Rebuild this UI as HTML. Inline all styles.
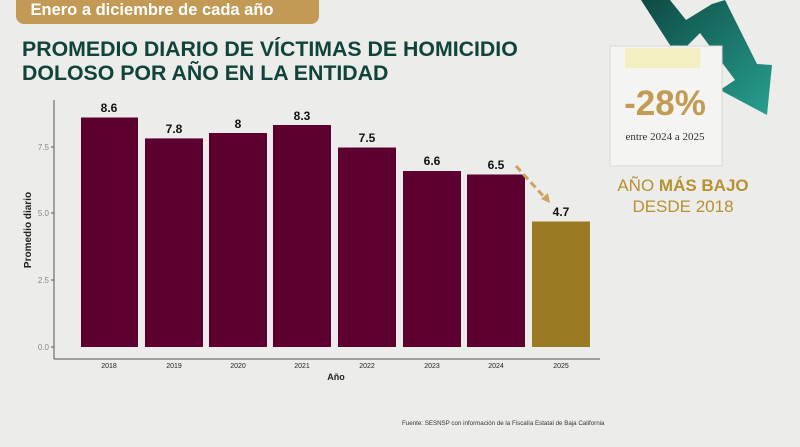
<!DOCTYPE html>
<html><head><meta charset="utf-8"><style>
body{margin:0;width:800px;height:447px;overflow:hidden;background:#ececea;font-family:"Liberation Sans",sans-serif;}
</style></head><body>
<svg width="800" height="447" viewBox="0 0 800 447" xmlns="http://www.w3.org/2000/svg" style="position:absolute;left:0;top:0">
<rect width="800" height="447" fill="#ececea"/>
<rect x="16" y="-12" width="303" height="36" rx="8" fill="#c29a55"/>
<text x="152" y="15" text-anchor="middle" font-size="16.5" font-weight="bold" fill="#fff">Enero a diciembre de cada año</text>
<text x="22" y="56" font-size="21.3" font-weight="bold" fill="#10443a">PROMEDIO DIARIO DE VÍCTIMAS DE HOMICIDIO</text>
<text x="22" y="80" font-size="21.3" font-weight="bold" fill="#10443a">DOLOSO POR AÑO EN LA ENTIDAD</text>
<defs><linearGradient id="g" x1="0" y1="0" x2="1" y2="1"><stop offset="0" stop-color="#0e4a44"/><stop offset="1" stop-color="#27a08f"/></linearGradient></defs>
<polygon points="641,0 670,0 686,20 712,4 725,0 757,64 772,65 767,115 720,90 735,80 700,33 677,56" fill="url(#g)"/>
<rect x="610" y="46" width="112" height="120" fill="#f4f4f2" stroke="#d8d8d6"/>
<rect x="625" y="48" width="75" height="20" fill="#f3efc0"/>
<text x="665" y="115" text-anchor="middle" font-size="35" font-weight="bold" fill="#c39a52">-28%</text>
<text x="665" y="140" text-anchor="middle" font-size="11" fill="#333" font-family="Liberation Serif,serif">entre 2024 a 2025</text>
<text x="683" y="191" text-anchor="middle" font-size="17" fill="#b8912f">AÑO <tspan font-weight="bold">MÁS BAJO</tspan></text>
<text x="683" y="212" text-anchor="middle" font-size="17" fill="#b8912f">DESDE 2018</text>
<line x1="54" y1="100" x2="54" y2="359" stroke="#555"/>
<line x1="54" y1="359" x2="600" y2="359" stroke="#555"/>
<g font-size="8" fill="#888" text-anchor="end">
<text x="49" y="350">0.0</text><text x="49" y="283">2.5</text><text x="49" y="216">5.0</text><text x="49" y="150">7.5</text></g>
<g stroke="#555"><line x1="51" y1="347" x2="54" y2="347"/><line x1="51" y1="280" x2="54" y2="280"/><line x1="51" y1="213" x2="54" y2="213"/><line x1="51" y1="147" x2="54" y2="147"/></g>
<text transform="translate(31,230) rotate(-90)" text-anchor="middle" font-size="10" font-weight="bold" fill="#222">Promedio diario</text>
<g fill="#5c0030">
<rect x="81" y="117.5" width="57" height="229.5"/>
<rect x="145" y="138.4" width="58" height="208.6"/>
<rect x="209" y="133" width="58" height="214"/>
<rect x="273" y="125" width="58" height="222"/>
<rect x="338" y="147.5" width="58" height="199.5"/>
<rect x="403" y="171" width="58" height="176"/>
<rect x="467" y="174.5" width="58" height="172.5"/>
</g>
<rect x="532" y="221.5" width="58" height="125.5" fill="#9b7a24"/>
<g font-size="12" font-weight="bold" fill="#111" text-anchor="middle">
<text x="109" y="112">8.6</text><text x="174" y="133">7.8</text><text x="238" y="128">8</text><text x="302" y="120">8.3</text><text x="367" y="142">7.5</text><text x="432" y="165">6.6</text><text x="496" y="169">6.5</text><text x="561" y="216">4.7</text></g>
<g font-size="7" fill="#222" text-anchor="middle">
<text x="109" y="368">2018</text><text x="174" y="368">2019</text><text x="238" y="368">2020</text><text x="302" y="368">2021</text><text x="367" y="368">2022</text><text x="432" y="368">2023</text><text x="496" y="368">2024</text><text x="561" y="368">2025</text></g>
<text x="336" y="380" text-anchor="middle" font-size="9" font-weight="bold" fill="#222">Año</text>
<line x1="516" y1="166" x2="545" y2="198" stroke="#d0a060" stroke-width="3" stroke-dasharray="7,4"/>
<polygon points="541,199 550,203 548,193" fill="#d0a060"/>
<text x="402" y="425" font-size="6.2" fill="#333">Fuente: SESNSP con información de la Fiscalía Estatal de Baja California</text>
</svg>
</body></html>
